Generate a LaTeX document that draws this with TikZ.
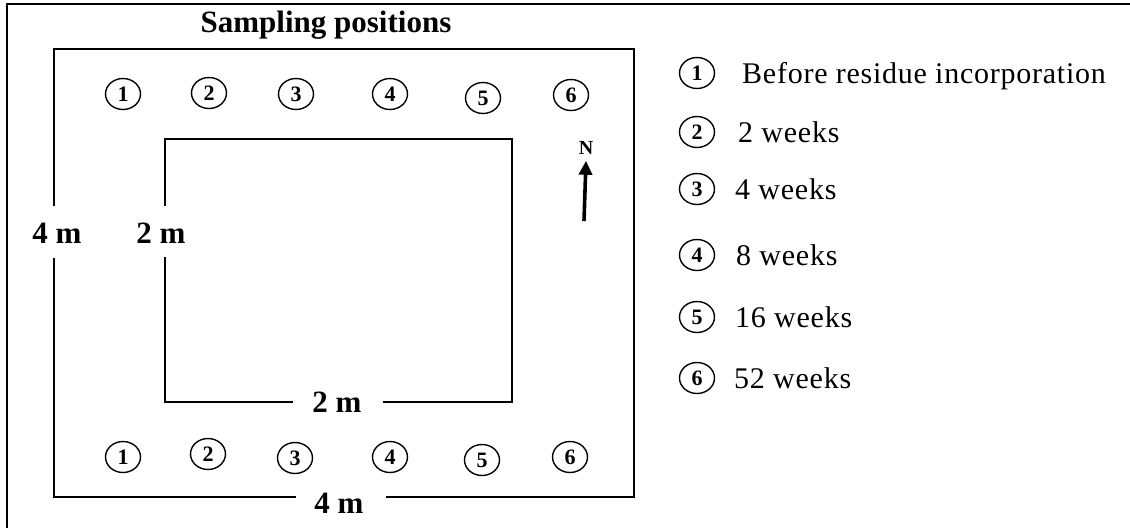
\documentclass[tikz,border=0pt]{standalone}
\usepackage{fontspec}
\setmainfont{Liberation Serif}
\newfontfamily\legendfont[LetterSpace=2.5]{Liberation Serif}
\usetikzlibrary{shapes.geometric,arrows.meta}

\tikzset{
  wall/.style={line width=2pt, line cap=rect},
  frameline/.style={line width=1.8pt},
  spot/.style={ellipse, draw, line width=1.4pt, minimum width=35pt, minimum height=31pt,
               inner sep=0pt, font=\fontsize{22}{24}\selectfont\bfseries},
  keyspot/.style={spot},
  dim/.style={inner sep=0pt, font=\fontsize{31}{36}\selectfont\bfseries},
  keytext/.style={anchor=base west, inner sep=0pt, font=\fontsize{30}{34}\selectfont\legendfont},
  heading/.style={inner sep=0pt, font=\fontsize{31}{36}\selectfont\bfseries},
}

\begin{document}
\begin{tikzpicture}[x=1pt, y=-1pt]
  \useasboundingbox (0,0) rectangle (1130,528);

  % page frame (top and left edges)
  \coordinate (fb) at (7,528);
  \coordinate (fc) at (7,4);
  \coordinate (fr) at (1130,4);
  \draw[frameline] (fb) -- (fc) -- (fr);

  % title
  \node[heading] (title) at (326,25) {Sampling positions};

  % outer 4 m square
  \node[dim] (outerleft) at (57,233) {4 m};
  \node[dim] (outerbottom) at (339,503) {4 m};
  \coordinate (oTL) at (54,49);
  \coordinate (oTR) at (634,49);
  \coordinate (oBR) at (634,497);
  \coordinate (oBL) at (54,497);
  \coordinate (oL1) at (54,205);
  \coordinate (oL2) at (54,259);
  \coordinate (oB1) at (387,497);
  \coordinate (oB2) at (295,497);
  \draw[wall] (oL1) -- (oTL) -- (oTR) -- (oBR) -- (oB1);
  \draw[wall] (oB2) -- (oBL) -- (oL2);

  % inner 2 m square
  \node[dim] (innerleft) at (161,233) {2 m};
  \node[dim] (innerbottom) at (337,402) {2 m};
  \coordinate (iTL) at (165,139);
  \coordinate (iTR) at (512,139);
  \coordinate (iBR) at (512,402);
  \coordinate (iBL) at (165,402);
  \coordinate (iL1) at (165,205);
  \coordinate (iL2) at (165,258);
  \coordinate (iB1) at (384,402);
  \coordinate (iB2) at (292,402);
  \draw[wall] (iL1) -- (iTL) -- (iTR) -- (iBR) -- (iB1);
  \draw[wall] (iB2) -- (iBL) -- (iL2);

  % sampling spots, north row
  \node[spot] (n1) at (123,94) {1};
  \node[spot] (n2) at (209,93) {2};
  \node[spot] (n3) at (296,94) {3};
  \node[spot] (n4) at (390,94) {4};
  \node[spot] (n5) at (483,98) {5};
  \node[spot] (n6) at (571,95) {6};

  % sampling spots, south row
  \node[spot] (s1) at (123,457) {1};
  \node[spot] (s2) at (208,454) {2};
  \node[spot] (s3) at (295,458) {3};
  \node[spot] (s4) at (390,457) {4};
  \node[spot] (s5) at (482,460) {5};
  \node[spot] (s6) at (570,457) {6};

  % north arrow
  \node[inner sep=0pt, font=\fontsize{20}{22}\selectfont\bfseries] (north) at (586,148) {N};
  \coordinate (arrowfoot) at (584,221);
  \draw[line width=3.6pt, -{Triangle[width=13pt,length=14pt]}] (arrowfoot) -- ([yshift=-6pt]north.south);

  % key
  \node[keyspot] (k1) at (697,73) {1};
  \node[keyspot] (k2) at (697,132) {2};
  \node[keyspot] (k3) at (697,189) {3};
  \node[keyspot] (k4) at (697,255) {4};
  \node[keyspot] (k5) at (697,317) {5};
  \node[keyspot] (k6) at (697,378) {6};
  \node[keytext] (t1) at (742,83) {Before residue incorporation};
  \node[keytext] (t2) at (738,142) {2 weeks};
  \node[keytext] (t3) at (735,199) {4 weeks};
  \node[keytext] (t4) at (736,265) {8 weeks};
  \node[keytext] (t5) at (735,327) {16 weeks};
  \node[keytext] (t6) at (734,388) {52 weeks};
\end{tikzpicture}
\end{document}
